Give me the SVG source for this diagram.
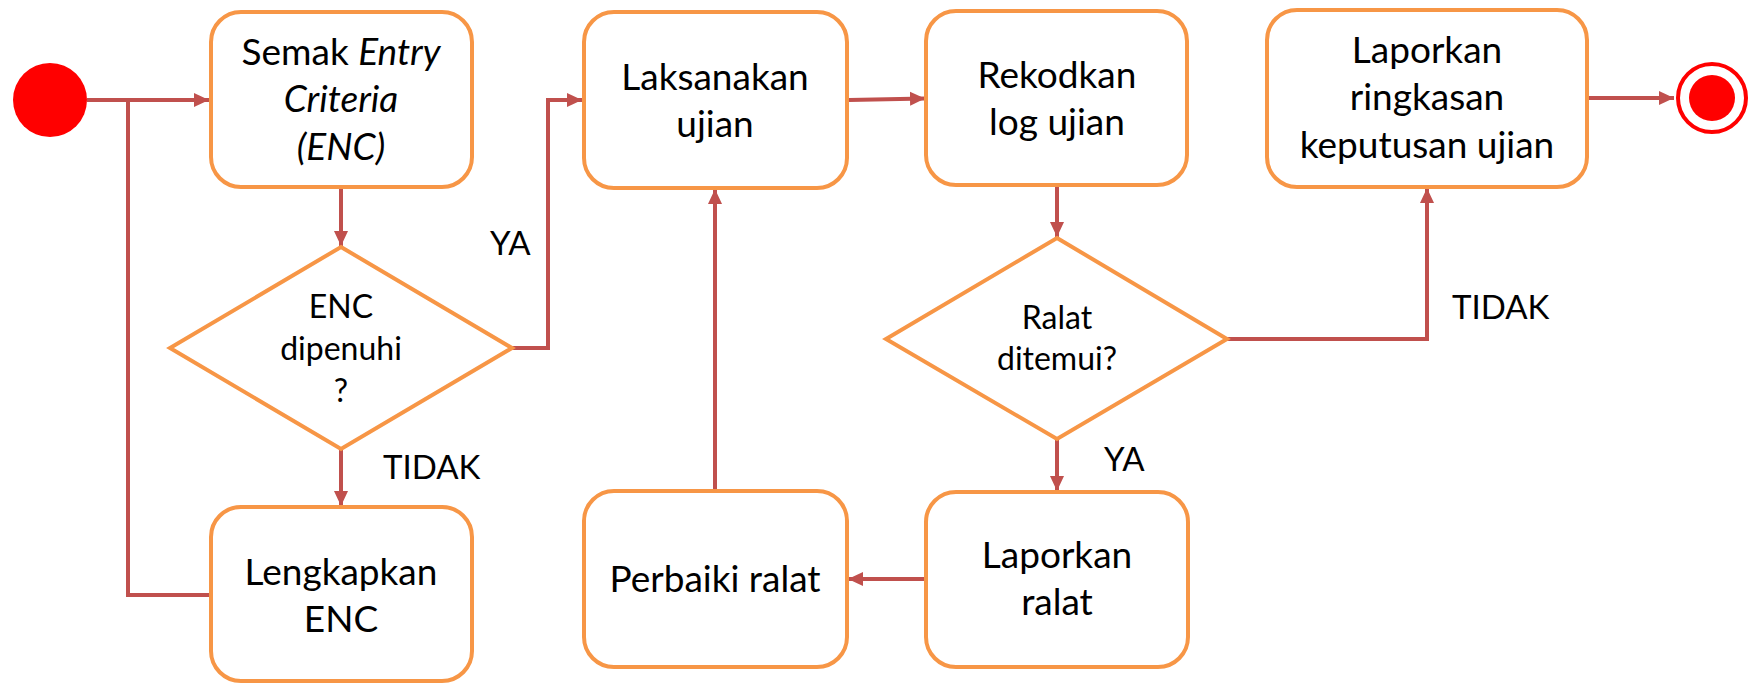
<svg xmlns="http://www.w3.org/2000/svg" width="1750" height="684" viewBox="0 0 1750 684">
<style>
.box{fill:#fff;stroke:#F79646;stroke-width:4}
.dia{fill:#fff;stroke:#F79646;stroke-width:4;stroke-linejoin:miter}
.t{font-family:Lato,"Liberation Sans",sans-serif;font-size:37px;fill:#000;text-anchor:middle}
.d{font-family:Lato,"Liberation Sans",sans-serif;font-size:32px;fill:#000;text-anchor:middle}
.lbl{font-family:Lato,"Liberation Sans",sans-serif;font-size:33px;fill:#000}
.c{fill:none;stroke:#C0504D;stroke-width:4}
</style>
<defs>
<marker id="ah" markerUnits="userSpaceOnUse" markerWidth="16" markerHeight="16" viewBox="0 0 16 16" refX="15" refY="8" orient="auto">
<path d="M0,1 L15,8 L0,15 z" fill="#C0504D"/>
</marker>
</defs>
<g id="connectors">
<path class="c" d="M87 100 H209" marker-end="url(#ah)"/>
<path class="c" d="M212 595 H128 V100"/>
<path class="c" d="M341 189 V246" marker-end="url(#ah)"/>
<path class="c" d="M341 449 V506" marker-end="url(#ah)"/>
<path class="c" d="M512 348 H548 V100 H582" marker-end="url(#ah)"/>
<path class="c" d="M849 100 L925 98.5" marker-end="url(#ah)"/>
<path class="c" d="M1057 187 V237" marker-end="url(#ah)"/>
<path class="c" d="M1057 439 V491" marker-end="url(#ah)"/>
<path class="c" d="M1227 339 H1427 V188" marker-end="url(#ah)"/>
<path class="c" d="M1589 98 H1674" marker-end="url(#ah)"/>
<path class="c" d="M924 579 H848" marker-end="url(#ah)"/>
<path class="c" d="M715 489 V189" marker-end="url(#ah)"/>
</g>
<g id="start"><circle cx="50" cy="100" r="37" fill="#FF0000"/></g>
<g id="semak">
<rect class="box" x="211" y="12" width="261" height="175" rx="30"/>
<text class="t" x="341" y="65">Semak <tspan font-style="italic">Entry</tspan></text>
<text class="t" x="341" y="112" font-style="italic">Criteria</text>
<text class="t" x="341" y="160" font-style="italic">(ENC)</text>
</g>
<g id="enc-dipenuhi">
<polygon class="dia" points="341,247 512,348 341,449 170,348"/>
<text class="d" x="341" y="318">ENC</text>
<text class="d" x="341" y="360">dipenuhi</text>
<text class="d" x="341" y="402">?</text>
</g>
<g id="lengkapkan">
<rect class="box" x="211" y="507" width="261" height="174" rx="30"/>
<text class="t" x="341" y="585">Lengkapkan</text>
<text class="t" x="341" y="632">ENC</text>
</g>
<g id="laksanakan">
<rect class="box" x="584" y="12" width="263" height="176" rx="30"/>
<text class="t" x="715" y="90">Laksanakan</text>
<text class="t" x="715" y="137">ujian</text>
</g>
<g id="rekodkan">
<rect class="box" x="926" y="11" width="261" height="174" rx="30"/>
<text class="t" x="1057" y="88">Rekodkan</text>
<text class="t" x="1057" y="135">log ujian</text>
</g>
<g id="ralat-ditemui">
<polygon class="dia" points="1057,238 1227,339 1057,439 886,339"/>
<text class="d" x="1057" y="329">Ralat</text>
<text class="d" x="1057" y="370">ditemui?</text>
</g>
<g id="laporkan-ringkasan">
<rect class="box" x="1267" y="10" width="320" height="177" rx="30"/>
<text class="t" x="1427" y="63">Laporkan</text>
<text class="t" x="1427" y="110">ringkasan</text>
<text class="t" x="1427" y="158">keputusan ujian</text>
</g>
<g id="end">
<circle cx="1712" cy="98" r="34" fill="#fff" stroke="#FF0000" stroke-width="4"/>
<circle cx="1712" cy="98" r="23" fill="#FF0000"/>
</g>
<g id="perbaiki">
<rect class="box" x="584" y="491" width="263" height="176" rx="30"/>
<text class="t" x="715" y="592">Perbaiki ralat</text>
</g>
<g id="laporkan-ralat">
<rect class="box" x="926" y="492" width="262" height="175" rx="30"/>
<text class="t" x="1057" y="568">Laporkan</text>
<text class="t" x="1057" y="615">ralat</text>
</g>
<g id="labels">
<text class="lbl" x="490" y="255">YA</text>
<text class="lbl" x="383" y="479">TIDAK</text>
<text class="lbl" x="1104" y="471">YA</text>
<text class="lbl" x="1452" y="319">TIDAK</text>
</g>
</svg>
